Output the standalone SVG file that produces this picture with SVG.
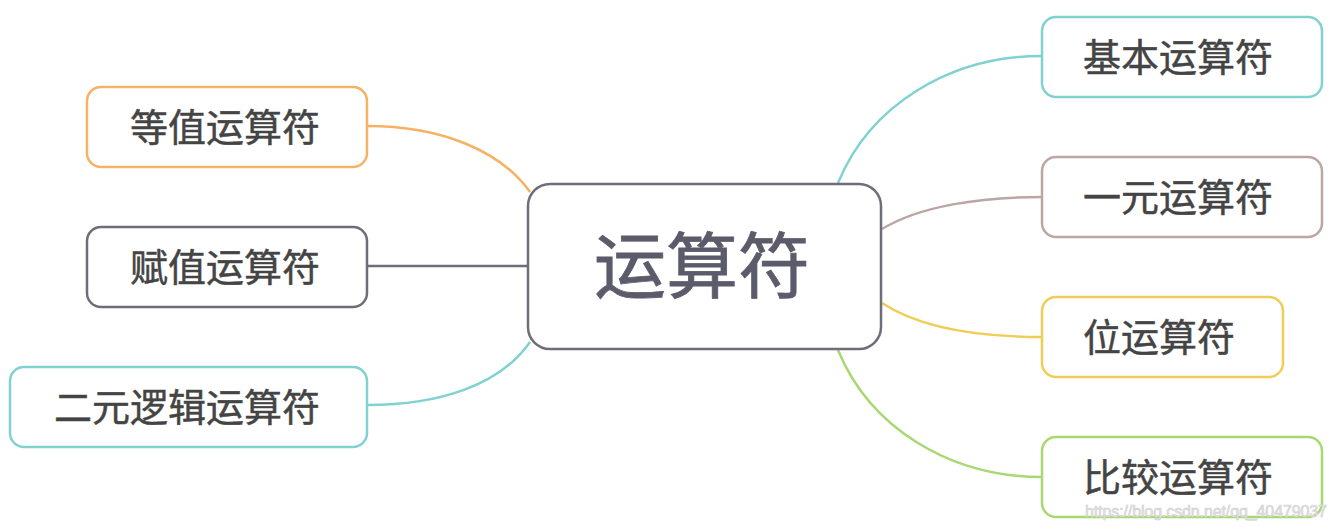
<svg xmlns="http://www.w3.org/2000/svg" width="1337" height="530" viewBox="0 0 1337 530">
<style>
.box{fill:#ffffff;stroke-width:2.5}
.lbl{font-family:"Noto Sans CJK SC","Noto Sans",sans-serif;font-size:38px;font-weight:400;fill:#444444;text-anchor:middle;stroke:#444444;stroke-width:0.5}
.main{font-family:"Noto Sans CJK SC","Noto Sans",sans-serif;font-size:72px;font-weight:400;fill:#5b5b6b;text-anchor:middle;stroke:#5b5b6b;stroke-width:0.8}
.conn{fill:none;stroke-width:2.5}
</style>
<rect width="1337" height="530" fill="#ffffff"/>
<g id="connectors">
<path class="conn" stroke="#f5b264" d="M367,126 C440,126 500,150 530,192"/>
<path class="conn" stroke="#6e6e78" d="M367,266 L528,266"/>
<path class="conn" stroke="#80d2d0" d="M367,405 C440,405 500,385 530,342"/>
<path class="conn" stroke="#80d2d0" d="M838,183 C870,105 950,56 1042,56"/>
<path class="conn" stroke="#bca6a4" d="M882,229 C920,206 980,197 1042,197"/>
<path class="conn" stroke="#f0cc58" d="M882,303 C920,328 980,337 1042,337"/>
<path class="conn" stroke="#a8d872" d="M838,350 C870,428 950,477 1042,477"/>
</g>
<g id="node-center">
<rect class="box" x="528" y="184" width="353" height="165" rx="22" stroke="#6e6e7a"/>
<text class="main" x="702" y="292">运算符</text>
</g>
<g id="node-dengzhi">
<rect class="box" x="87" y="87" width="280" height="80" rx="14" stroke="#f5b264"/>
<text class="lbl" x="225" y="141">等值运算符</text>
</g>
<g id="node-fuzhi">
<rect class="box" x="87" y="227" width="280" height="80" rx="14" stroke="#6e6e78"/>
<text class="lbl" x="225" y="281">赋值运算符</text>
</g>
<g id="node-eryuan">
<rect class="box" x="10" y="367" width="357" height="80" rx="14" stroke="#80d2d0"/>
<text class="lbl" x="187" y="421">二元逻辑运算符</text>
</g>
<g id="node-jiben">
<rect class="box" x="1042" y="17" width="280" height="80" rx="14" stroke="#80d2d0"/>
<text class="lbl" x="1178" y="71">基本运算符</text>
</g>
<g id="node-yiyuan">
<rect class="box" x="1042" y="157" width="280" height="80" rx="14" stroke="#bca6a4"/>
<text class="lbl" x="1178" y="211">一元运算符</text>
</g>
<g id="node-wei">
<rect class="box" x="1042" y="297" width="241" height="80" rx="14" stroke="#f0cc58"/>
<text class="lbl" x="1159" y="351">位运算符</text>
</g>
<g id="node-bijiao">
<rect class="box" x="1042" y="437" width="280" height="80" rx="14" stroke="#a8d872"/>
<text class="lbl" x="1178" y="491">比较运算符</text>
</g>
<text x="1085" y="517" font-family="Liberation Sans, Arial, sans-serif" font-size="16" fill="#e6e6e6" stroke="#cfcfcf" stroke-width="0.6" textLength="242">https://blog.csdn.net/qq_40479037</text>
</svg>
